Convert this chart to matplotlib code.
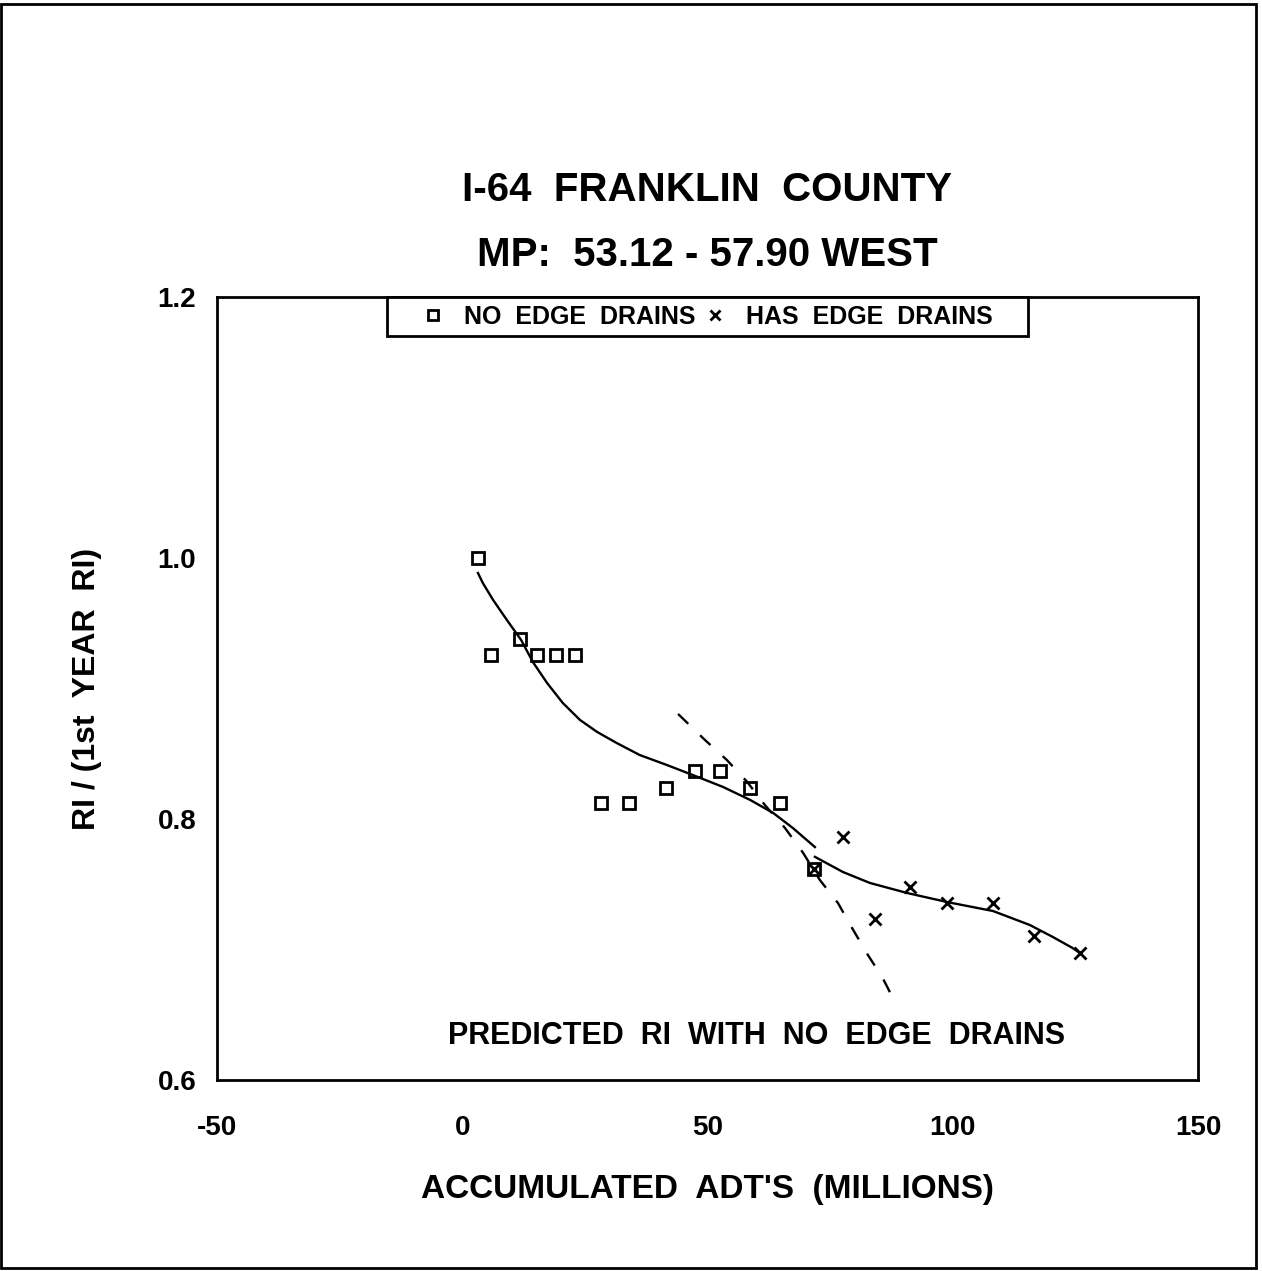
import matplotlib
matplotlib.use('Agg')
import matplotlib.pyplot as plt
from matplotlib.lines import Line2D
from matplotlib.patches import Rectangle

plt.rcParams['font.family'] = ['Liberation Sans', 'DejaVu Sans']
plt.rcParams['font.weight'] = 'bold'

# data
no_drain_x = [3.2, 5.9, 11.8, 15.2, 19.1, 23.0, 28.3, 34.0, 41.5, 47.5, 52.5, 58.7, 64.8, 71.7]
no_drain_y = [1.000, 0.926, 0.938, 0.926, 0.926, 0.926, 0.812, 0.812, 0.824, 0.837, 0.837, 0.824, 0.812, 0.762]

has_drain_x = [71.7, 77.6, 84.1, 91.3, 98.8, 108.2, 116.6, 125.9]
has_drain_y = [0.762, 0.786, 0.723, 0.748, 0.736, 0.736, 0.710, 0.697]

fit1_x = [3.2, 4.2, 6.3, 9.1, 12.0, 14.4, 17.3, 20.5, 24.0, 27.5, 31.5, 36.2, 41.7, 47.0,
          53.2, 58.7, 63.4, 67.4, 71.9]
fit1_y = [0.9885, 0.9808, 0.9678, 0.9525, 0.9372, 0.9203, 0.9042, 0.8889, 0.8759, 0.8667,
          0.8582, 0.8490, 0.8414, 0.8337, 0.8245, 0.8146, 0.8046, 0.7931, 0.7785]

fit2_x = [71.9, 77.6, 83.1, 90.7, 98.8, 108.2, 115.7, 120.4, 124.5, 125.9]
fit2_y = [0.771, 0.7594, 0.751, 0.7433, 0.7364, 0.7295, 0.7188, 0.7096, 0.701, 0.6973]

pred_x = [44.0, 49.5, 54.0, 58.1, 61.7, 65.8, 69.5, 72.9, 76.6, 79.7, 82.7, 85.6, 87.8]
pred_y = [0.8805, 0.8605, 0.845, 0.8284, 0.8107, 0.7931, 0.774, 0.7533, 0.7356, 0.715, 0.6958, 0.679, 0.6628]

x_ticks = [-50, 0, 50, 100, 150]
y_ticks = [0.6, 0.8, 1.0, 1.2]

fig = plt.figure(figsize=(12.62, 12.71), dpi=100)
ax = fig.add_axes([217/1262, 1 - 1080/1271, (1198-217)/1262, (1080-297)/1271])

ax.plot(fit1_x, fit1_y, color='black', lw=1.7)
ax.plot(fit2_x, fit2_y, color='black', lw=1.7)
ax.plot(pred_x, pred_y, color='black', lw=1.7, dashes=(6, 7))
ax.plot(no_drain_x, no_drain_y, ls='', marker='s', ms=9, mfc='none', mec='black', mew=2)
ax.plot(has_drain_x, has_drain_y, ls='', marker='x', ms=9, mec='black', mew=2)

ax.set_xlim(-50, 150)
ax.set_ylim(0.6, 1.2)
ax.set_xticks(x_ticks)
ax.set_yticks(y_ticks)
ax.set_xticklabels([str(v) for v in x_ticks], fontsize=20, fontweight='bold')
ax.set_yticklabels(['%.1f' % v for v in y_ticks], fontsize=20, fontweight='bold')
ax.tick_params(axis='x', length=0, pad=25)
ax.tick_params(axis='y', length=0, pad=15)
for s in ax.spines.values():
    s.set_linewidth(2)

ax.set_xlabel("ACCUMULATED  ADT'S  (MILLIONS)", fontsize=24, fontweight='bold', labelpad=24)
ax.set_ylabel('RI / (1st  YEAR  RI)', fontsize=23, fontweight='bold', labelpad=40)

ax.text(0.5, 1.0 + 107/783, 'I-64  FRANKLIN  COUNTY', transform=ax.transAxes,
        ha='center', va='center', fontsize=29, fontweight='bold')
ax.text(0.5, 1.0 + 42/783, 'MP:  53.12 - 57.90 WEST', transform=ax.transAxes,
        ha='center', va='center', fontsize=29, fontweight='bold')

ax.text(0.5505, 44/783, 'PREDICTED  RI  WITH  NO  EDGE  DRAINS', transform=ax.transAxes,
        ha='center', va='center', fontsize=22, fontweight='bold')

handles = [Line2D([], [], ls='', marker='s', ms=7, mfc='none', mec='black', mew=2),
           Line2D([], [], ls='', marker='x', ms=7, mec='black', mew=2)]
leg = ax.legend(handles, ['NO  EDGE  DRAINS', 'HAS  EDGE  DRAINS    '], ncol=2,
                loc='upper center', bbox_to_anchor=(0.5, 1.0), borderaxespad=0,
                fancybox=False, edgecolor='black', framealpha=1,
                prop={'size': 18, 'weight': 'bold'}, handlelength=3.1,
                handletextpad=-0.3, columnspacing=-0.8, borderpad=0.3)
leg.get_frame().set_linewidth(2)

fig.patches.append(Rectangle((1/1262, 3/1271), 1255/1262, 1264/1271, transform=fig.transFigure,
                             fill=False, edgecolor='black', lw=2))

fig.savefig('out.png', dpi=100)
